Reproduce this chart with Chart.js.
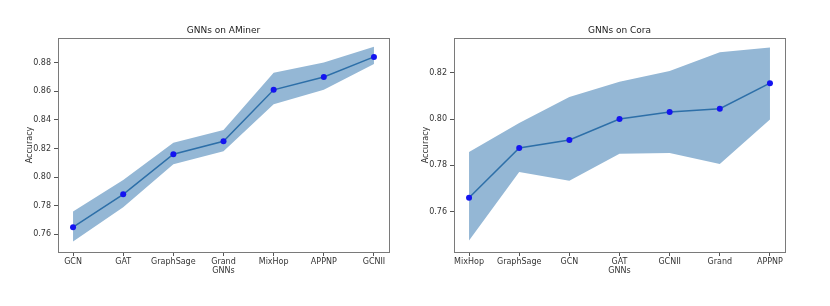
<!DOCTYPE html>
<html>
<head>
<meta charset="utf-8">
<script src="https://cdn.jsdelivr.net/npm/chart.js@4"></script>
<style>
  html, body { margin: 0; padding: 0; background: #fff; }
  #wrap { position: relative; width: 830px; height: 306px; }
  .box { position: absolute; top: 0; width: 415px; height: 306px; }
</style>
</head>
<body>
<div id="wrap">
  <div class="box" style="left:0"><canvas id="chartAminer"></canvas></div>
  <div class="box" style="left:415px"><canvas id="chartCora"></canvas></div>
</div>
<script>
// AMiner
const aminerLabels = ["GCN", "GAT", "GraphSage", "Grand", "MixHop", "APPNP", "GCNII"];
const aminerMean = [0.765, 0.788, 0.816, 0.825, 0.861, 0.870, 0.884];
const aminerUpper = [0.776, 0.798, 0.824, 0.833, 0.873, 0.880, 0.891];
const aminerLower = [0.755, 0.779, 0.809, 0.818, 0.851, 0.861, 0.879];
const aminerTicks = [0.76, 0.78, 0.80, 0.82, 0.84, 0.86, 0.88];

// Cora
const coraLabels = ["MixHop", "GraphSage", "GCN", "GAT", "GCNII", "Grand", "APPNP"];
const coraMean = [0.766, 0.7875, 0.791, 0.800, 0.803, 0.8045, 0.8155];
const coraUpper = [0.7858, 0.7983, 0.8095, 0.8161, 0.8207, 0.8288, 0.8309];
const coraLower = [0.7476, 0.7771, 0.7734, 0.785, 0.7853, 0.7806, 0.7998];
const coraTicks = [0.76, 0.78, 0.80, 0.82];

const tickFont = { family: "'DejaVu Sans', sans-serif", size: 8 };
const textColor = "#333";

// marco alrededor del área del gráfico (como matplotlib) + título centrado sobre los ejes
const framePlugin = {
  id: "frame",
  afterLayout(chart) {
    if (chart.titleBlock) {
      chart.titleBlock.left = chart.chartArea.left;
      chart.titleBlock.right = chart.chartArea.right;
    }
  },
  afterDraw(chart) {
    const { ctx, chartArea: a } = chart;
    ctx.save();
    ctx.strokeStyle = "#7a7a7a";
    ctx.lineWidth = 1;
    ctx.strokeRect(a.left + 0.5, a.top + 0.5, a.right - a.left, a.bottom - a.top);
    ctx.restore();
  }
};

function toPoints(values) {
  return values.map((v, i) => ({ x: i, y: v }));
}

function drawGnnChart(canvasId, title, labels, mean, upper, lower, yTicks, cfg) {
  const ctx = document.getElementById(canvasId).getContext("2d");
  new Chart(ctx, {
    type: "line",
    data: {
      datasets: [
        {
          data: toPoints(upper),
          borderWidth: 0,
          pointRadius: 0,
          backgroundColor: "rgb(148,183,213)",
          fill: "+1",
          order: 3
        },
        {
          data: toPoints(lower),
          borderWidth: 0,
          pointRadius: 0,
          fill: false,
          order: 3
        },
        {
          data: toPoints(mean),
          borderColor: "#2d6fa8",
          borderWidth: 1.5,
          pointRadius: 3,
          pointBackgroundColor: "#1414f0",
          pointBorderColor: "#1414f0",
          pointBorderWidth: 0,
          fill: false,
          tension: 0,
          order: 1
        }
      ]
    },
    options: {
      responsive: false,
      animation: false,
      layout: { padding: { left: cfg.left, right: cfg.right, top: 0, bottom: 29 } },
      plugins: {
        legend: { display: false },
        tooltip: { enabled: false },
        title: {
          display: true,
          text: title,
          color: "#222",
          font: { family: "'DejaVu Sans', sans-serif", size: 9, weight: "normal" },
          padding: { top: 25.3, bottom: 1.9 }
        }
      },
      scales: {
        x: {
          type: "linear",
          min: -0.3,
          max: 6.3,
          afterBuildTicks: (axis) => {
            axis.ticks = labels.map((_, i) => ({ value: i }));
          },
          afterFit: (axis) => { axis.height = 25; },
          ticks: {
            color: textColor,
            font: tickFont,
            padding: 1,
            maxRotation: 0,
            autoSkip: false,
            callback: (v) => labels[v]
          },
          grid: { drawOnChartArea: false, drawTicks: true, tickLength: 4, color: "#555" },
          border: { display: false },
          title: { display: true, text: "GNNs", color: textColor, font: tickFont, padding: { top: 0, bottom: 1 } }
        },
        y: {
          min: cfg.yMin,
          max: cfg.yMax,
          afterBuildTicks: (axis) => {
            axis.ticks = yTicks.map((v) => ({ value: v }));
          },
          afterFit: (axis) => { axis.width = cfg.yWidth; },
          ticks: {
            color: textColor,
            font: tickFont,
            padding: 3,
            callback: (v) => v.toFixed(2)
          },
          grid: { drawOnChartArea: false, drawTicks: true, tickLength: 4, color: "#555" },
          border: { display: false },
          title: { display: true, text: "Accuracy", color: textColor, font: tickFont, padding: { top: 0, bottom: 0 } }
        }
      }
    },
    plugins: [framePlugin]
  });
}

const c1 = document.getElementById("chartAminer");
c1.width = 415; c1.height = 306;
const c2 = document.getElementById("chartCora");
c2.width = 415; c2.height = 306;

drawGnnChart("chartAminer", "GNNs on AMiner", aminerLabels, aminerMean, aminerUpper, aminerLower, aminerTicks,
  { yMin: 0.7477, yMax: 0.8972, left: 25, yWidth: 33, right: 26 });
drawGnnChart("chartCora", "GNNs on Cora", coraLabels, coraMean, coraUpper, coraLower, coraTicks,
  { yMin: 0.7426, yMax: 0.835, left: 6, yWidth: 33, right: 45 });
</script>
</body>
</html>
